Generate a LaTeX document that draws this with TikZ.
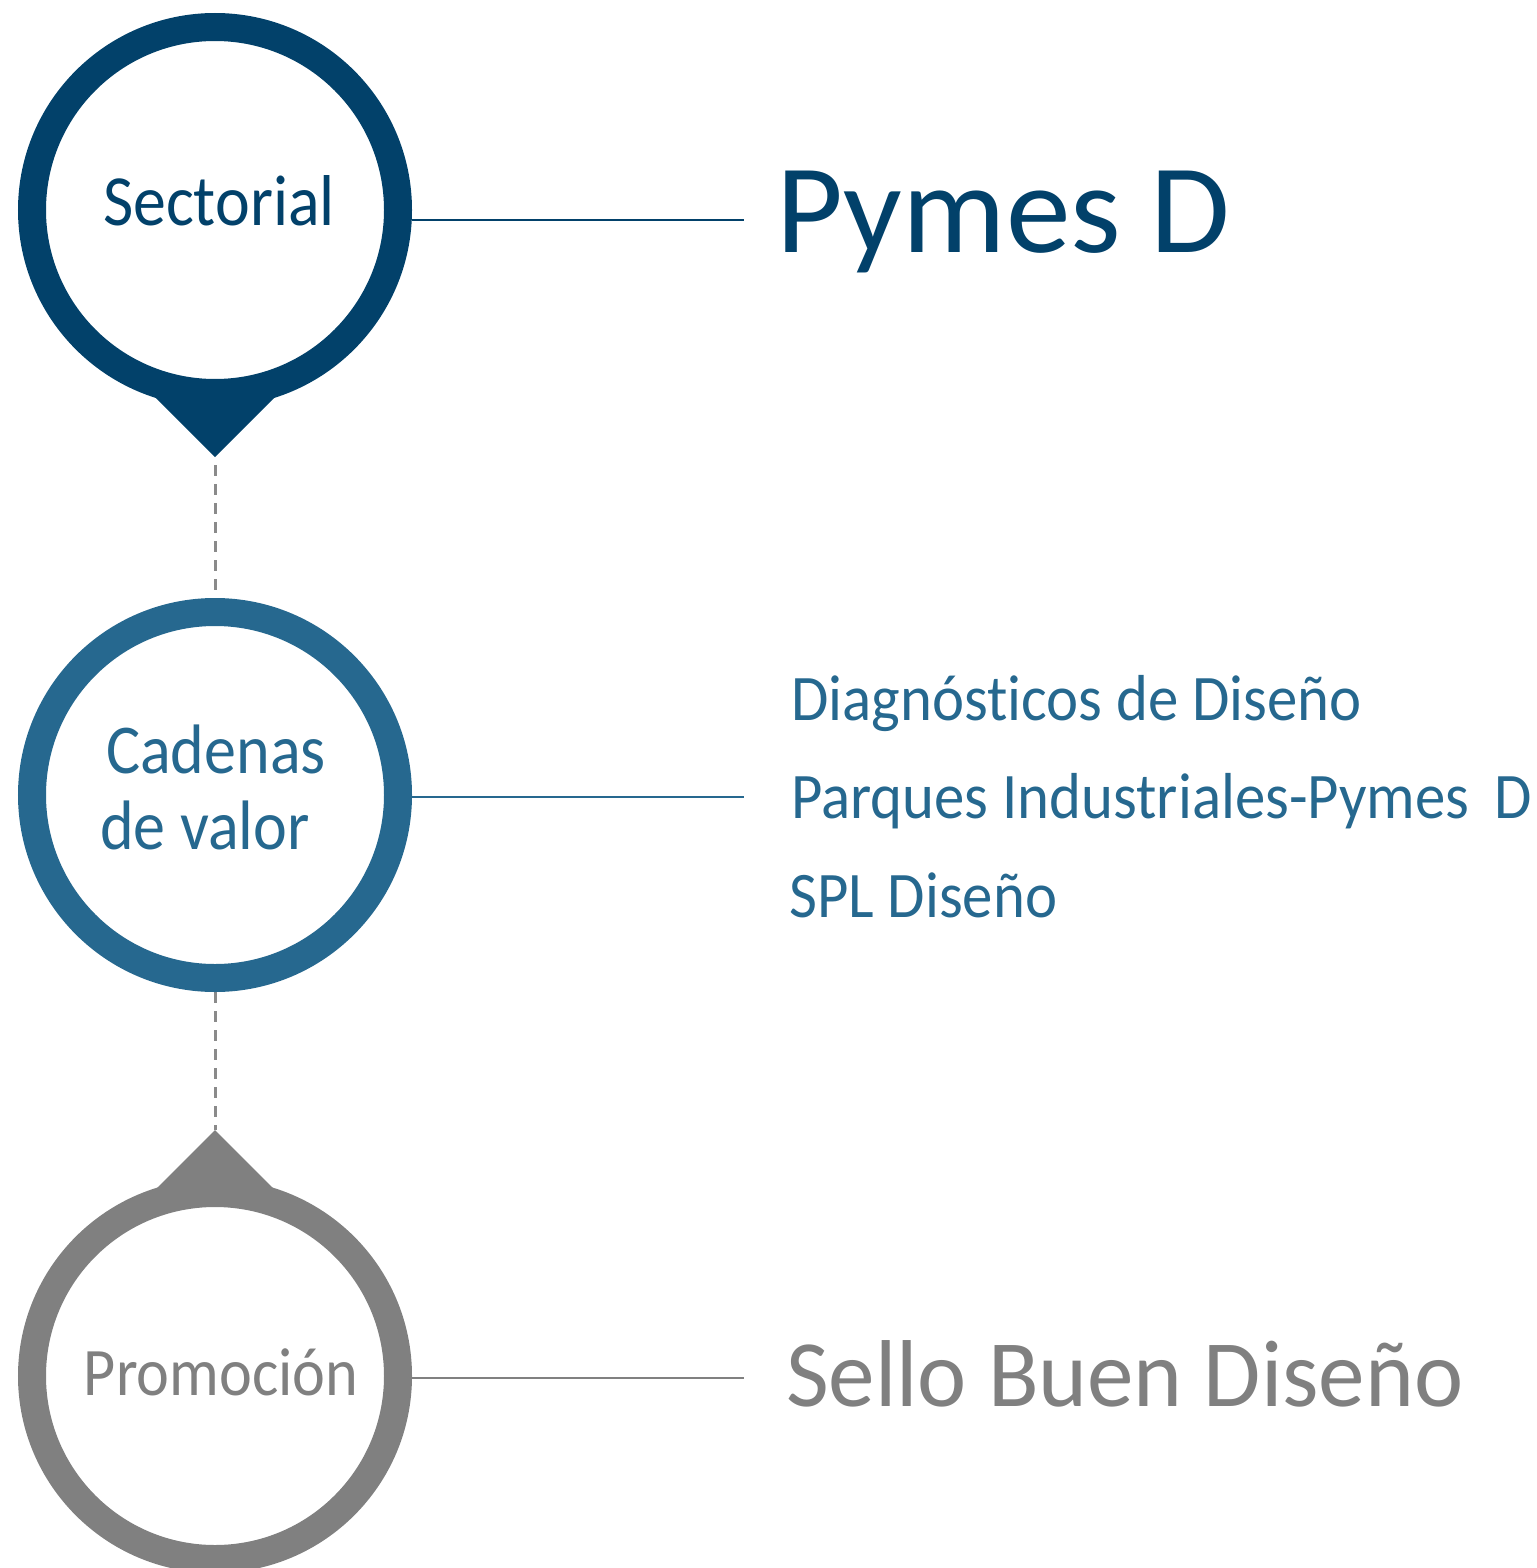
\documentclass[tikz,border=0pt]{standalone}
\usepackage{fontspec}
\setmainfont{Carlito}[Ligatures={NoCommon}]
\newfontfamily\ringfont{Carlito}[FakeStretch=0.915, Ligatures={NoCommon}]
\newfontfamily\listfont{Carlito}[FakeStretch=0.935, Ligatures={NoCommon}]
\newfontfamily\bigfont{Carlito}[FakeStretch=1.02, Ligatures={NoCommon}]
\newfontfamily\sellofont{Carlito}[FakeStretch=0.98, Ligatures={NoCommon}]
\definecolor{dblue}{RGB}{2,65,106}
\definecolor{mblue}{RGB}{38,104,143}
\definecolor{pgray}{RGB}{128,128,128}
\definecolor{dgray}{RGB}{138,138,138}
\pgfdeclarelayer{bg}
\pgfsetlayers{bg,main}
\begin{document}
\begin{tikzpicture}[x=1pt,y=-1pt,
  ring/.style={circle, draw=#1, line width=28pt, minimum size=366pt, inner sep=0pt, fill=white},
  link/.style={draw=#1, line width=2.2pt},
  dashlink/.style={draw=dgray, line width=3pt, dash pattern=on 11pt off 8pt},
  ringlabel/.style={anchor=base, inner sep=0pt, text=#1},
  itemtext/.style={anchor=base west, inner sep=0pt, text=#1}]
\useasboundingbox (0,0) rectangle (1536,1568);

% rings
\node[ring=dblue] (c1) at (215,210) {};
\node[ring=mblue] (c2) at (215,795) {};
\node[ring=pgray] (c3) at (215,1376) {};

% ring labels
\node[ringlabel=dblue, font=\ringfont\fontsize{72}{76}\selectfont] (l1) at (219,225) {Sectorial};
\node[ringlabel=mblue, font=\ringfont\fontsize{70}{76}\selectfont] (l2a) at (216,773) {Cadenas};
\node[ringlabel=mblue, font=\ringfont\fontsize{70}{76}\selectfont] (l2b) at (205,849) {de valor};
\node[ringlabel=pgray, font=\ringfont\fontsize{68}{72}\selectfont] (l3) at (221,1395) {Promoción};

% right texts
\node[itemtext=dblue, font=\bigfont\fontsize{127}{130}\selectfont] (t1) at (776,252) {Pymes D};
\node[itemtext=mblue, font=\listfont\fontsize{65}{70}\selectfont] (t2a) at (791,720) {Diagnósticos de Diseño};
\node[itemtext=mblue, font=\listfont\fontsize{65}{70}\selectfont] (t2b) at (791,818) {Parques Industriales-Pymes\hspace{25pt}D};
\node[itemtext=mblue, font=\listfont\fontsize{65}{70}\selectfont] (t2c) at (789,917) {SPL Diseño};
\node[itemtext=pgray, font=\sellofont\fontsize{95}{100}\selectfont] (t3) at (786,1406) {Sello Buen Diseño};

% pin tips and line ends
\coordinate (tip1) at (215,457);
\coordinate (tip3) at (215,1130);
\coordinate (e1) at (744,220);
\coordinate (e2) at (744,797);
\coordinate (e3) at (744,1378);

\begin{pgfonlayer}{bg}
  \fill[dblue] (150,392) -- (280,392) -- (tip1) -- cycle;
  \fill[pgray] (150,1195) -- (280,1195) -- (tip3) -- cycle;
  \draw[dashlink] ([yshift=-8pt]tip1) -- (c2.north);
  \draw[dashlink] (c2.south) -- (tip3);
  \draw[link=dblue] (c1.east |- e1) -- (e1);
  \draw[link=mblue] (c2.east |- e2) -- (e2);
  \draw[link=pgray] (c3.east |- e3) -- (e3);
\end{pgfonlayer}
\end{tikzpicture}
\end{document}
